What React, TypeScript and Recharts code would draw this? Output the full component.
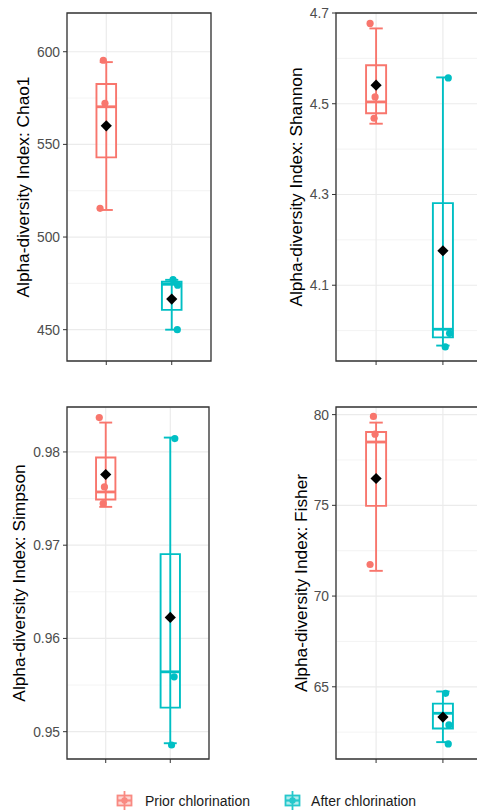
import React from 'react';
import { ScatterChart, Scatter, XAxis, YAxis, CartesianGrid, ReferenceArea, ReferenceLine } from 'recharts';

const PRIOR = '#F8766D';
const AFTER = '#00BFC4';
const FONT = '"Liberation Sans", Arial, Helvetica, sans-serif';

const groups = ['Prior chlorination', 'After chlorination'];

// box stats per group: [whiskerLow, q1, median, q3, whiskerHigh]
const chao1Stats = [[514.6, 543.0, 570.3, 582.6, 594.4], [450.0, 460.7, 474.5, 475.9, 476.9]];
const chao1Means = [560.0, 466.5];
const chao1Prior = [{ x: 0.955, y: 595.4 }, { x: 0.98, y: 572.2 }, { x: 0.905, y: 515.5 }];
const chao1After = [{ x: 2.02, y: 477.0 }, { x: 2.09, y: 474.0 }, { x: 2.085, y: 450.0 }];
const chao1Ticks = [450, 500, 550, 600];
const chao1Minor = [475, 525, 575];

const shannonStats = [[4.456, 4.479, 4.504, 4.585, 4.666], [3.967, 3.985, 4.003, 4.281, 4.558]];
const shannonMeans = [4.541, 4.176];
const shannonPrior = [{ x: 0.91, y: 4.677 }, { x: 0.985, y: 4.515 }, { x: 0.97, y: 4.468 }];
const shannonAfter = [{ x: 2.08, y: 4.557 }, { x: 2.1, y: 3.994 }, { x: 2.035, y: 3.964 }];
const shannonTicks = [4.1, 4.3, 4.5, 4.7];
const shannonMinor = [4.0, 4.2, 4.4, 4.6];

const simpsonStats = [[0.97411, 0.9749, 0.97571, 0.9794, 0.98315], [0.94876, 0.95258, 0.95642, 0.96904, 0.98154]];
const simpsonMeans = [0.97758, 0.96225];
const simpsonPrior = [{ x: 0.9, y: 0.98369 }, { x: 0.98, y: 0.97625 }, { x: 0.96, y: 0.97447 }];
const simpsonAfter = [{ x: 2.07, y: 0.98143 }, { x: 2.06, y: 0.95588 }, { x: 2.02, y: 0.94857 }];
const simpsonTicks = [0.95, 0.96, 0.97, 0.98];
const simpsonMinor = [0.955, 0.965, 0.975];

const fisherStats = [[71.39, 74.97, 78.49, 79.04, 79.56], [61.95, 62.7, 63.54, 64.07, 64.74]];
const fisherMeans = [76.48, 63.33];
const fisherPrior = [{ x: 0.96, y: 79.9 }, { x: 0.985, y: 78.92 }, { x: 0.91, y: 71.74 }];
const fisherAfter = [{ x: 2.04, y: 64.64 }, { x: 2.09, y: 62.9 }, { x: 2.08, y: 61.85 }];
const fisherTicks = [65, 70, 75, 80];
const fisherMinor = [62.5, 67.5, 72.5, 77.5];

const BOX_HALF = 0.15;
const CAP_HALF = 0.1;
const LW = 1.9;

const Dot = (color: string) => (p: any) => <circle cx={p.cx} cy={p.cy} r={3.6} fill={color} />;
const Diamond = (p: any) => {
  const s = 5.6;
  return <polygon points={`${p.cx},${p.cy - s} ${p.cx + s},${p.cy} ${p.cx},${p.cy + s} ${p.cx - s},${p.cy}`} fill="#000" />;
};

function Panel({ title, stats, means, prior, after, ticks, minor, domain, fmt, box }: any) {
  const { left, top, width, height, yw, mt, xh, mr, titleX } = box;
  const plotH = height - mt - xh;
  const colors = [PRIOR, AFTER];
  return (
    <div style={{ position: 'absolute', left, top }}>
      <ScatterChart width={width} height={height} margin={{ top: mt, right: mr, bottom: 0, left: 0 }}>
        <CartesianGrid stroke="#ebebeb" strokeWidth={0.6} horizontalValues={minor} vertical={false} />
        <CartesianGrid stroke="#ebebeb" strokeWidth={1.2} />
        <XAxis type="number" dataKey="x" domain={[0.4, 2.6]} ticks={[1, 2]} allowDataOverflow
          tickFormatter={() => ''} tickSize={4} tickLine={{ stroke: '#333' }} axisLine={false} height={xh} />
        <YAxis type="number" dataKey="y" domain={domain} ticks={ticks} allowDataOverflow width={yw}
          tickSize={4} tickMargin={3} tickFormatter={fmt} axisLine={false} tickLine={{ stroke: '#333' }}
          tick={{ fontSize: 13.8, fill: '#4d4d4d', fontFamily: FONT }}
          label={{
            content: () => (
              <text x={titleX} y={mt + plotH / 2} transform={`rotate(-90, ${titleX}, ${mt + plotH / 2})`}
                textAnchor="middle" fontSize={17.3} fill="#000" fontFamily={FONT}>{title}</text>
            ),
          }} />
        {stats.map((s: number[], i: number) => (
          <ReferenceLine key={'w' + i} segment={[{ x: i + 1, y: s[0] }, { x: i + 1, y: s[4] }]} stroke={colors[i]} strokeWidth={LW} ifOverflow="visible" />
        ))}
        {stats.map((s: number[], i: number) => (
          <ReferenceLine key={'cl' + i} segment={[{ x: i + 1 - CAP_HALF, y: s[0] }, { x: i + 1 + CAP_HALF, y: s[0] }]} stroke={colors[i]} strokeWidth={LW} ifOverflow="visible" />
        ))}
        {stats.map((s: number[], i: number) => (
          <ReferenceLine key={'ch' + i} segment={[{ x: i + 1 - CAP_HALF, y: s[4] }, { x: i + 1 + CAP_HALF, y: s[4] }]} stroke={colors[i]} strokeWidth={LW} ifOverflow="visible" />
        ))}
        {stats.map((s: number[], i: number) => (
          <ReferenceArea key={'b' + i} x1={i + 1 - BOX_HALF} x2={i + 1 + BOX_HALF} y1={s[1]} y2={s[3]}
            fill="#fff" fillOpacity={0.7} stroke={colors[i]} strokeWidth={LW} ifOverflow="visible" />
        ))}
        {stats.map((s: number[], i: number) => (
          <ReferenceLine key={'m' + i} segment={[{ x: i + 1 - BOX_HALF, y: s[2] }, { x: i + 1 + BOX_HALF, y: s[2] }]} stroke={colors[i]} strokeWidth={2.8} ifOverflow="visible" />
        ))}
        <Scatter name={groups[0]} data={prior} shape={Dot(PRIOR)} isAnimationActive={false} />
        <Scatter name={groups[1]} data={after} shape={Dot(AFTER)} isAnimationActive={false} />
        <Scatter name="mean" data={means.map((m: number, i: number) => ({ x: i + 1, y: m }))} shape={Diamond} isAnimationActive={false} />
        <ReferenceArea x1={0.4} x2={2.6} y1={domain[0]} y2={domain[1]} fill="none" stroke="#333" strokeWidth={1.3} ifOverflow="visible" />
      </ScatterChart>
    </div>
  );
}

const LegendKey = ({ color }: { color: string }) => (
  <svg width={17} height={19} style={{ display: 'block' }}>
    <g opacity={0.85}>
      <line x1={8.5} y1={0} x2={8.5} y2={19} stroke={color} strokeWidth={1.8} />
      <rect x={1.5} y={4.5} width={14} height={10} fill={color} fillOpacity={0.35} stroke={color} strokeWidth={1.8} />
      <line x1={1.5} y1={9.5} x2={15.5} y2={9.5} stroke={color} strokeWidth={2.2} />
      <circle cx={8.5} cy={9.5} r={3.2} fill={color} />
    </g>
  </svg>
);

export default function App() {
  return (
    <div style={{ position: 'absolute', left: 0, top: 0, width: 477, height: 812, overflow: 'hidden', background: '#fff', fontFamily: FONT }}>
      <Panel title="Alpha-diversity Index: Chao1" stats={chao1Stats} means={chao1Means} prior={chao1Prior} after={chao1After}
        ticks={chao1Ticks} minor={chao1Minor} domain={[433.1, 620.9]} fmt={(v: number) => String(v)}
        box={{ left: 0, top: 0, width: 240, height: 380, yw: 67, mt: 13, xh: 19, mr: 29, titleX: 29 }} />
      <Panel title="Alpha-diversity Index: Shannon" stats={shannonStats} means={shannonMeans} prior={shannonPrior} after={shannonAfter}
        ticks={shannonTicks} minor={shannonMinor} domain={[3.933, 4.7]} fmt={(v: number) => v.toFixed(1)}
        box={{ left: 240, top: 0, width: 250, height: 380, yw: 96, mt: 13, xh: 19, mr: 7, titleX: 62 }} />
      <Panel title="Alpha-diversity Index: Simpson" stats={simpsonStats} means={simpsonMeans} prior={simpsonPrior} after={simpsonAfter}
        ticks={simpsonTicks} minor={simpsonMinor} domain={[0.94707, 0.98482]} fmt={(v: number) => v.toFixed(2)}
        box={{ left: 0, top: 380, width: 240, height: 400, yw: 67, mt: 27, xh: 21, mr: 31, titleX: 24.5 }} />
      <Panel title="Alpha-diversity Index: Fisher" stats={fisherStats} means={fisherMeans} prior={fisherPrior} after={fisherAfter}
        ticks={fisherTicks} minor={fisherMinor} domain={[61.02, 80.42]} fmt={(v: number) => String(v)}
        box={{ left: 240, top: 380, width: 250, height: 400, yw: 96, mt: 27, xh: 21, mr: 7, titleX: 67 }} />
      <div style={{ position: 'absolute', left: 116, top: 791, display: 'flex', alignItems: 'center', fontSize: 14, color: '#1a1a1a' }}>
        <LegendKey color={PRIOR} />
        <span style={{ marginLeft: 12 }}>{groups[0]}</span>
        <span style={{ width: 34 }} />
        <LegendKey color={AFTER} />
        <span style={{ marginLeft: 10 }}>{groups[1]}</span>
      </div>
    </div>
  );
}
